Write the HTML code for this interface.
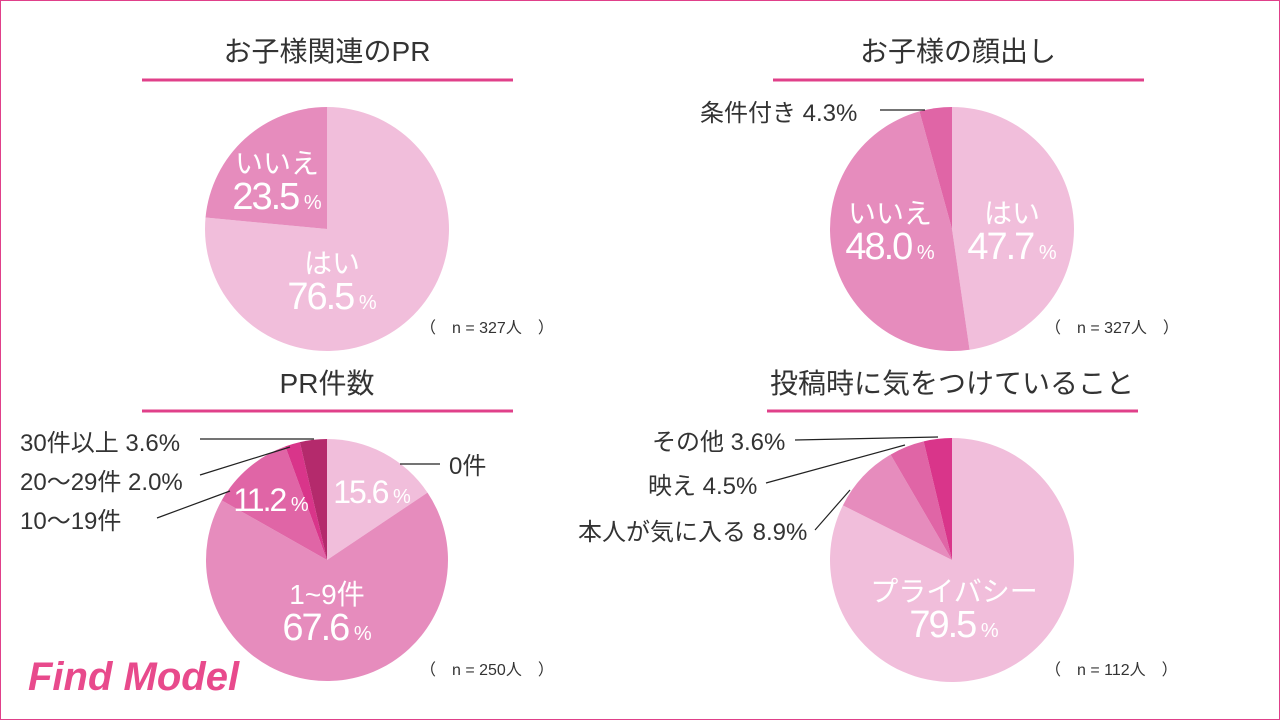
<!DOCTYPE html>
<html><head><meta charset="utf-8">
<style>
html,body{margin:0;padding:0;background:#fff}
#wrap{position:relative;width:1278px;height:718px;border:1px solid #e0408a;overflow:hidden;font-family:"Liberation Sans","Noto Sans CJK JP",sans-serif}
svg text{font-family:"Liberation Sans","Noto Sans CJK JP",sans-serif}
</style></head>
<body>
<div id="wrap">
<svg id="svg" width="1278" height="718" viewBox="1 1 1278 718">
<g font-size="28" fill="#333" text-anchor="middle">
<text x="327" y="61">お子様関連のPR</text>
<text x="958" y="61">お子様の顔出し</text>
<text x="327" y="393">PR件数</text>
<text x="952" y="393">投稿時に気をつけていること</text>
</g>
<g stroke="#e0408a" stroke-width="3">
<line x1="142" y1="80" x2="513" y2="80"/><line x1="773" y1="80" x2="1144" y2="80"/>
<line x1="142" y1="411" x2="513" y2="411"/><line x1="767" y1="411" x2="1138" y2="411"/>
</g>
<g id="pies"></g>
<g font-size="16" fill="#333">
<text x="420" y="333">（　n = 327人　）</text>
<text x="1045" y="333">（　n = 327人　）</text>
<text x="420" y="675">（　n = 250人　）</text>
<text x="1045" y="675">（　n = 112人　）</text>
</g>
<g font-size="24" fill="#333">
<text x="700" y="121">条件付き 4.3%</text>
<text x="20" y="451">30件以上 3.6%</text>
<text x="20" y="490">20～29件 2.0%</text>
<text x="20" y="529">10～19件</text>
<text x="449" y="474">0件</text>
<text x="652" y="450">その他 3.6%</text>
<text x="648" y="494">映え 4.5%</text>
<text x="578" y="540">本人が気に入る 8.9%</text>
</g>
<g stroke="#222" stroke-width="1.2" fill="none">
<polyline points="880,110 925,110"/>
<polyline points="200,439 314,439"/>
<polyline points="200,475 290,447"/>
<polyline points="157,518 230,491"/>
<polyline points="400,464 440,464"/>
<polyline points="795,440 938,437"/>
<polyline points="766,483 905,445"/>
<polyline points="815,530 850,490"/>
</g>
<text x="28" y="690" font-size="40" font-style="italic" font-weight="bold" fill="#e84a8c" font-family="Liberation Serif,serif">Find Model</text>
</svg>
</div>
<script>
const pie1Labels=["はい","いいえ"];
const pie1Values=[76.5,23.5];
const pie2Labels=["はい","いいえ","条件付き"];
const pie2Values=[47.7,48.0,4.3];
const pie3Labels=["0件","1~9件","10~19件","20~29件","30件以上"];
const pie3Values=[15.6,67.6,11.2,2.0,3.6];
const pie4Labels=["プライバシー","本人が気に入る","映え","その他"];
const pie4Values=[79.5,8.9,4.5,3.6];
const C={l:"#f1bedb",m:"#e68cbd",d:"#e065a6",dd:"#d9358a",ddd:"#b42a6c"};
const NS="http://www.w3.org/2000/svg";
const g=document.getElementById('pies');
function pie(cx,cy,r,vals,cols,names,inner){
  const tot=vals.reduce((a,b)=>a+b,0);let a0=0;
  vals.forEach((v,i)=>{
    const a1=a0+v/tot*2*Math.PI;
    const x0=cx+r*Math.sin(a0),y0=cy-r*Math.cos(a0),x1=cx+r*Math.sin(a1),y1=cy-r*Math.cos(a1);
    const p=document.createElementNS(NS,'path');
    p.setAttribute('d',`M${cx},${cy}L${x0},${y0}A${r},${r} 0 ${a1-a0>Math.PI?1:0} 1 ${x1},${y1}Z`);
    p.setAttribute('fill',cols[i]);
    
    
    g.appendChild(p);
    a0=a1;
  });
  vals.forEach((v,i)=>{
    const lab=inner[i];
    if(!lab)return;
    const tx=cx+lab.dx,ty=cy+lab.dy;
    const t=document.createElementNS(NS,'text');
    t.setAttribute('x',tx);t.setAttribute('y',ty);
    t.setAttribute('text-anchor','middle');t.setAttribute('fill','#fff');
    
    
    let h='';
    if(lab.name)h+=`<tspan x="${tx}" dy="-36" font-size="28">${names[i]}</tspan>`;
    h+=`<tspan x="${tx}" dy="${lab.name?36:0}" font-size="${lab.fs||38}" letter-spacing="-2">${vals[i].toFixed(1)}</tspan><tspan font-size="20"> %</tspan>`;
    t.innerHTML=h;g.appendChild(t);
  });
}
pie(327,229,122,pie1Values,[C.l,C.m],pie1Labels,[{dx:5,dy:80,name:1},{dx:-50,dy:-20,name:1}]);
pie(952,229,122,pie2Values,[C.l,C.m,C.d],pie2Labels,[{dx:60,dy:30,name:1},{dx:-62,dy:30,name:1},null]);
pie(327,560,121,pie3Values,[C.l,C.m,C.d,C.dd,C.ddd],pie3Labels,[{dx:45,dy:-57,fs:32},{dx:0,dy:80,name:1},{dx:-56,dy:-49,fs:32},null,null]);
pie(952,560,122,pie4Values,[C.l,C.m,C.d,C.dd],pie4Labels,[{dx:2,dy:77,name:1},null,null,null]);
</script>
</body></html>
